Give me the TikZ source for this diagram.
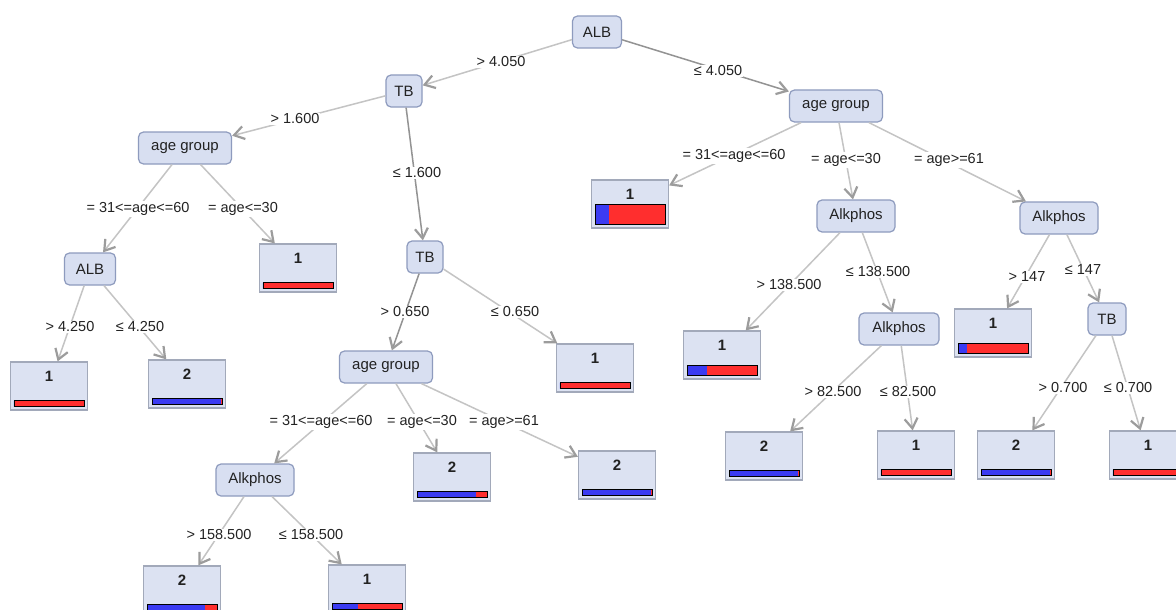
\documentclass[tikz,border=0pt]{standalone}
\usepackage{fontspec}
\setmainfont{Liberation Sans}
\usetikzlibrary{arrows.meta}
\definecolor{decf}{HTML}{D8DFF1}
\definecolor{decb}{HTML}{8E9BBE}
\definecolor{leaff}{HTML}{DCE2F2}
\definecolor{leafb}{HTML}{A2A9BA}
\definecolor{edgec}{HTML}{C4C4C4}
\definecolor{edged}{HTML}{939393}
\definecolor{arrc}{HTML}{9C9C9C}
\definecolor{barred}{HTML}{FF2E2E}
\definecolor{barblue}{HTML}{3B3BF2}
\definecolor{txt}{HTML}{222222}
\tikzset{
  dec/.style={draw=decb, fill=decf, rounded corners=5pt, line width=1.2pt,
    minimum height=32pt, inner xsep=1pt, text=txt, font=\fontsize{15}{18}\selectfont},
  leafbox/.style={draw=leafb, fill=leaff, line width=1.2pt, minimum width=77pt,
    minimum height=48pt, inner sep=0pt},
  digit/.style={inner sep=0pt, text=txt, font=\fontsize{15}{18}\selectfont\bfseries},
  edge/.style={draw=edgec, line width=1.5pt,
    -{Straight Barb[length=10pt,width=13pt,line width=2.2pt,color=arrc]}},
  dedge/.style={edge, draw=edged},
  lbl/.style={fill=white, inner sep=1pt, text=txt, font=\fontsize{14.5}{17}\selectfont}
}
\newcommand\leafnode[6]{%
  \node[leafbox] (#1) at (#2,#3) {};
  \node[digit] (#1t) at ([yshift=-15pt]#1.north) {#4};
  \pgfmathsetmacro\bw{69*#5}%
  \fill[barblue] ([shift={(4pt,4pt)}]#1.south west) rectangle ++(\bw pt,#6 pt);
  \fill[barred] ([shift={(4pt+\bw pt,4pt)}]#1.south west) rectangle ([shift={(-4pt,4pt+#6 pt)}]#1.south east);
  \draw[line width=0.8pt] ([shift={(4pt,4pt)}]#1.south west) rectangle ([shift={(-4pt,4pt+#6 pt)}]#1.south east);
}
\begin{document}
\begin{tikzpicture}[x=1pt,y=-1pt]
\useasboundingbox[fill=white] (0,0) rectangle (1176,610);
% decision nodes
\node[dec, minimum width=49pt] (alb) at (597,32) {ALB};
\node[dec, minimum width=36pt] (tb) at (404,91) {TB};
\node[dec, minimum width=93pt] (agR) at (836,106) {age group};
\node[dec, minimum width=93pt] (agL) at (185,148) {age group};
\node[dec, minimum width=36pt] (tb2) at (425,257) {TB};
\node[dec, minimum width=51pt] (albL) at (90,269) {ALB};
\node[dec, minimum width=93pt] (agM) at (386,367) {age group};
\node[dec, minimum width=78pt] (alkL) at (255,480) {Alkphos};
\node[dec, minimum width=78pt] (alkM) at (856,216) {Alkphos};
\node[dec, minimum width=78pt] (alkR) at (1059,218) {Alkphos};
\node[dec, minimum width=80pt] (alkN) at (899,329) {Alkphos};
\node[dec, minimum width=38pt] (tbR) at (1107,319) {TB};
% leaves
\leafnode{lA}{298}{268}{1}{0}{6}
\leafnode{lB}{49}{386}{1}{0}{6}
\leafnode{lC}{187}{384}{2}{1}{6}
\leafnode{lD}{595}{368}{1}{0}{6}
\leafnode{lE}{452}{477}{2}{0.85}{6}
\leafnode{lF}{617}{475}{2}{1}{6}
\leafnode{lG}{182}{590}{2}{0.84}{6}
\leafnode{lH}{367}{589}{1}{0.38}{6}
\leafnode{lI}{630}{204}{1}{0.21}{20}
\leafnode{lJ}{722}{355}{1}{0.29}{10}
\leafnode{lK}{993}{333}{1}{0.13}{10}
\leafnode{lL}{764}{456}{2}{1}{6}
\leafnode{lM}{916}{455}{1}{0}{6}
\leafnode{lN}{1016}{455}{2}{1}{6}
\leafnode{lO}{1148}{455}{1}{0}{6}
% edges
\draw[edge] (alb) -- (tb);
\draw[dedge] (alb) -- (agR);
\draw[edge] (tb) -- (agL);
\draw[dedge] (tb) -- (tb2);
\draw[edge] (agL) -- (albL);
\draw[edge] (agL) -- (lA);
\draw[edge] (albL) -- (lB);
\draw[edge] (albL) -- (lC);
\draw[dedge] (tb2) -- (agM);
\draw[edge] (tb2) -- (lD);
\draw[edge] (agM) -- (alkL);
\draw[edge] (agM) -- (lE);
\draw[edge] (agM) -- (lF);
\draw[edge] (alkL) -- (lG);
\draw[edge] (alkL) -- (lH);
\draw[edge] (agR) -- (lI);
\draw[edge] (agR) -- (alkM);
\draw[edge] (agR) -- (alkR);
\draw[edge] (alkM) -- (lJ);
\draw[edge] (alkM) -- (alkN);
\draw[edge] (alkR) -- (lK);
\draw[edge] (alkR) -- (tbR);
\draw[edge] (alkN) -- (lL);
\draw[edge] (alkN) -- (lM);
\draw[edge] (tbR) -- (lN);
\draw[edge] (tbR) -- (lO);
% edge labels
\node[lbl] (e1) at (501,62) {> 4.050};
\node[lbl] (e2) at (718,71) {≤ 4.050};
\node[lbl] (e3) at (295,119) {> 1.600};
\node[lbl] (e4) at (417,173) {≤ 1.600};
\node[lbl] (e5) at (138,209) {= 31<=age<=60};
\node[lbl] (e6) at (243,209) {= age<=30};
\node[lbl] (e7) at (70,327) {> 4.250};
\node[lbl] (e8) at (140,327) {≤ 4.250};
\node[lbl] (e9) at (405,312) {> 0.650};
\node[lbl] (e10) at (515,312) {≤ 0.650};
\node[lbl] (e11) at (321,422) {= 31<=age<=60};
\node[lbl] (e12) at (422,422) {= age<=30};
\node[lbl] (e13) at (504,422) {= age>=61};
\node[lbl] (e14) at (219,535) {> 158.500};
\node[lbl] (e15) at (311,535) {≤ 158.500};
\node[lbl] (e16) at (734,156) {= 31<=age<=60};
\node[lbl] (e17) at (846,160) {= age<=30};
\node[lbl] (e18) at (949,160) {= age>=61};
\node[lbl] (e19) at (789,285) {> 138.500};
\node[lbl] (e20) at (878,272) {≤ 138.500};
\node[lbl] (e21) at (1027,277) {> 147};
\node[lbl] (e22) at (1083,270) {≤ 147};
\node[lbl] (e23) at (833,392) {> 82.500};
\node[lbl] (e24) at (908,392) {≤ 82.500};
\node[lbl] (e25) at (1063,388) {> 0.700};
\node[lbl] (e26) at (1128,388) {≤ 0.700};
\end{tikzpicture}
\end{document}
